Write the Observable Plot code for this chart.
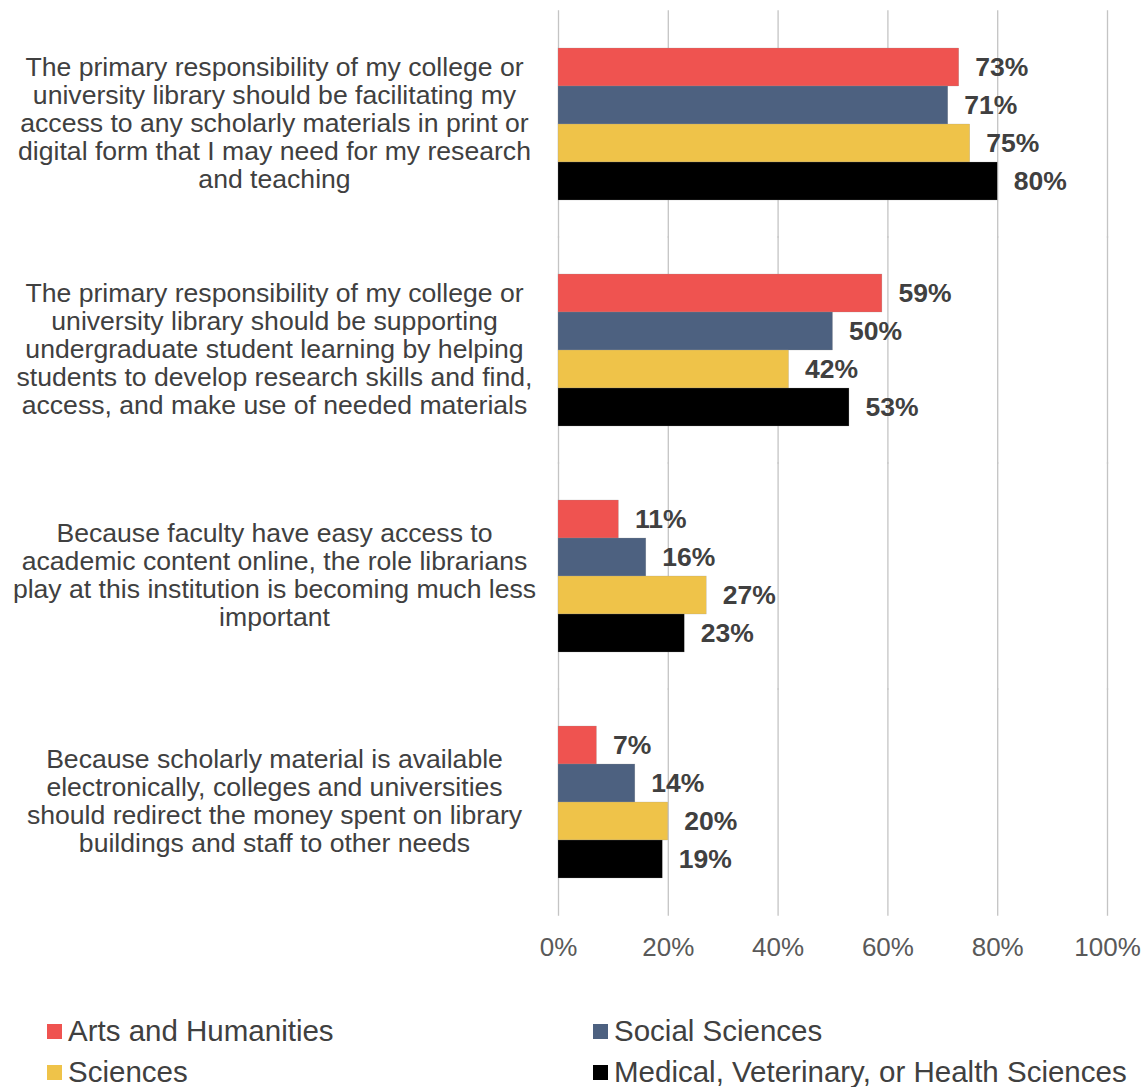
<!DOCTYPE html>
<html>
<head>
<meta charset="utf-8">
<script src="https://cdn.jsdelivr.net/npm/d3@7"></script>
<script src="https://cdn.jsdelivr.net/npm/@observablehq/plot@0.6"></script>
<style>
  body { margin: 0; background: #fff; font-family: "Liberation Sans", sans-serif; }
  #chart svg { display: block; }
  #legend { position: relative; width: 1146px; height: 102px; font-family: "Liberation Sans", sans-serif; }
  .item { position: absolute; display: flex; align-items: center; font-size: 29.5px; line-height: 34px; height: 34px; color: #404040; white-space: nowrap; }
  .sw { width: 15px; height: 15px; margin-right: 6px; flex: none; }
</style>
</head>
<body>
<div id="chart"></div>
<div id="legend"></div>
<script>
const questions = [
  "The primary responsibility of my college or\nuniversity library should be facilitating my\naccess to any scholarly materials in print or\ndigital form that I may need for my research\nand teaching",
  "The primary responsibility of my college or\nuniversity library should be supporting\nundergraduate student learning by helping\nstudents to develop research skills and find,\naccess, and make use of needed materials",
  "Because faculty have easy access to\nacademic content online, the role librarians\nplay at this institution is becoming much less\nimportant",
  "Because scholarly material is available\nelectronically, colleges and universities\nshould redirect the money spent on library\nbuildings and staff to other needs"
];
const series = ["Arts and Humanities", "Social Sciences", "Sciences", "Medical, Veterinary, or Health Sciences"];
const colors = ["#EF5350", "#4D6180", "#EFC349", "#000000"];
const artsHumanities = [73, 59, 11, 7];
const socialSciences = [71, 50, 16, 14];
const sciences = [75, 42, 27, 20];
const medical = [80, 53, 23, 19];
const xTicks = [0, 20, 40, 60, 80, 100];

const valuesBySeries = [artsHumanities, socialSciences, sciences, medical];
const data = [];
questions.forEach((q, qi) => {
  series.forEach((s, si) => {
    data.push({question: q, series: s, value: valuesBySeries[si][qi]});
  });
});

const svgHeight = 985;
const plotTop = 10, plotBottom = 916, nQ = questions.length;
const step = (plotBottom - plotTop) / nQ;
const padIn = 0.329;
const halfGap = step * padIn / 2 + 0.5;

const chart = Plot.plot({
  width: 1146,
  height: svgHeight,
  marginLeft: 558,
  marginRight: 39,
  marginTop: plotTop,
  marginBottom: svgHeight - plotBottom,
  style: {fontFamily: "'Liberation Sans', sans-serif", background: "#fff"},
  x: {domain: [0, 100], ticks: xTicks, label: null},
  fy: {domain: questions, paddingInner: padIn, paddingOuter: padIn / 2, axis: null, label: null},
  y: {domain: series, padding: 0, axis: null, label: null},
  color: {domain: series, range: colors},
  marks: [
    Plot.gridX(xTicks, {stroke: "#c4c4c4", strokeOpacity: 1, strokeWidth: 1.3, insetTop: -halfGap, insetBottom: -halfGap}),
    Plot.barX(data, {fy: "question", y: "series", x: "value", fill: "series", stroke: "#9a9a9a", strokeWidth: 0.4, strokeOpacity: 0.6}),
    Plot.text(data, {fy: "question", y: "series", x: "value", text: d => d.value + "%", textAnchor: "start", dx: 16, fontWeight: "bold", fontSize: 26.5, fill: "#404040"}),
    Plot.text(questions, {fy: d => d, text: d => d, frameAnchor: "left", textAnchor: "middle", dx: -284, dy: -1, fontSize: 26.6, lineHeight: 1.053, fill: "#404040"}),
    Plot.axisX(xTicks, {tickSize: 0, tickPadding: 59, tickFormat: d => d + "%", fontSize: 26, color: "#595959", label: null})
  ]
});
document.getElementById("chart").appendChild(chart);

const legend = document.getElementById("legend");
const pos = [[47, 1031], [593, 1031], [47, 1072], [593, 1072]];
series.forEach((s, i) => {
  const el = document.createElement("div");
  el.className = "item";
  el.style.left = pos[i][0] + "px";
  el.style.top = (pos[i][1] - 17 - svgHeight) + "px";
  const sw = document.createElement("span");
  sw.className = "sw";
  sw.style.background = colors[i];
  el.appendChild(sw);
  el.appendChild(document.createTextNode(s));
  legend.appendChild(el);
});
</script>
</body>
</html>
